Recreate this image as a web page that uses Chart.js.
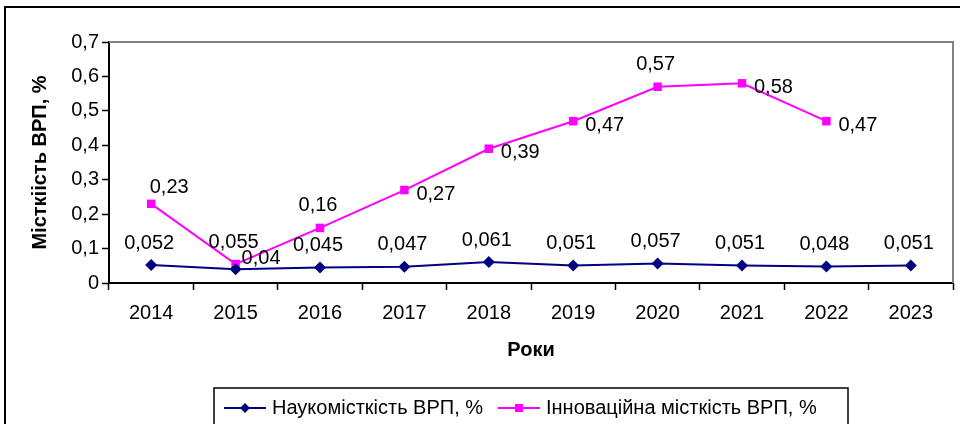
<!DOCTYPE html>
<html lang="uk">
<head>
  <meta charset="UTF-8" />
  <title>Місткість ВРП</title>
  <script src="https://cdn.jsdelivr.net/npm/chart.js"></script>
  <style>
    html, body { margin: 0; padding: 0; background: #fff; overflow: hidden; }
  </style>
</head>
<body>
  <canvas id="chart" width="960" height="424"></canvas>
  <script>
    // дані з графіка
    const years = ["2014", "2015", "2016", "2017", "2018", "2019", "2020", "2021", "2022", "2023"];
    const naukomistkist = [0.052, 0.04, 0.045, 0.047, 0.061, 0.051, 0.057, 0.051, 0.048, 0.051];
    const innovatsiina = [0.23, 0.055, 0.16, 0.27, 0.39, 0.47, 0.57, 0.58, 0.47, null];
    const yTicks = [0, 0.1, 0.2, 0.3, 0.4, 0.5, 0.6, 0.7];

    // де стоять підписи значень
    const naukLabelPos = ["top", "upright", "top", "top", "top", "top", "top", "top", "top", "top"];
    const innovLabelPos = ["topright", "top", "top", "right", "right", "right", "top", "right", "right", "right"];

    const FONT = "'Liberation Sans', Arial, sans-serif";
    const NAVY = "#000080";
    const MAGENTA = "#ff00ff";

    const fmt = v => v === 0 ? "0" : String(v).replace(".", ",");

    const valueLabels = {
      id: "valueLabels",
      afterDatasetsDraw(chart) {
        const ctx = chart.ctx;
        ctx.save();
        ctx.font = "20px " + FONT;
        ctx.fillStyle = "#000";
        ctx.textBaseline = "middle";
        chart.data.datasets.forEach((ds, i) => {
          const meta = chart.getDatasetMeta(i);
          const pos = i === 0 ? naukLabelPos : innovLabelPos;
          meta.data.forEach((pt, j) => {
            const v = ds.data[j];
            if (v == null) return;
            const txt = fmt(v);
            let x = pt.x, y = pt.y;
            if (pos[j] === "top") {
              ctx.textAlign = "center";
              x -= 2; y -= 22;
            } else if (pos[j] === "topright") {
              ctx.textAlign = "center";
              x += 18; y -= 16;
            } else if (pos[j] === "upright") {
              ctx.textAlign = "left";
              x += 6; y -= 11;
            } else {
              ctx.textAlign = "left";
              x += 12; y += 4;
            }
            ctx.fillText(txt, x, y);
          });
        });
        ctx.restore();
      }
    };

    const frame = {
      id: "frame",
      afterDraw(chart) {
        const ctx = chart.ctx;
        const a = chart.chartArea;
        ctx.save();
        // рамка області побудови (сіра зверху і справа)
        ctx.strokeStyle = "#808080";
        ctx.lineWidth = 2;
        ctx.beginPath();
        ctx.moveTo(a.left, a.top);
        ctx.lineTo(a.right, a.top);
        ctx.lineTo(a.right, a.bottom);
        ctx.stroke();
        // зовнішня рамка
        ctx.strokeStyle = "#000";
        ctx.lineWidth = 2;
        ctx.beginPath();
        ctx.moveTo(5, 430);
        ctx.lineTo(5, 7);
        ctx.lineTo(965, 7);
        ctx.stroke();

        // легенда
        const lx = 214, ly = 388, lw = 634, lh = 40;
        ctx.lineWidth = 1.5;
        ctx.strokeRect(lx, ly, lw, lh);
        ctx.font = "20px " + FONT;
        ctx.textBaseline = "middle";
        ctx.textAlign = "left";
        const cy = ly + 20;
        const starts = [lx + 10, lx + 284];
        chart.data.datasets.forEach((ds, i) => {
          const x = starts[i];
          ctx.strokeStyle = ds.borderColor;
          ctx.lineWidth = 2;
          ctx.beginPath();
          ctx.moveTo(x, cy);
          ctx.lineTo(x + 42, cy);
          ctx.stroke();
          ctx.fillStyle = ds.backgroundColor;
          const mx = x + 21;
          if (ds.pointStyle === "rectRot") {
            ctx.beginPath();
            ctx.moveTo(mx, cy - 5);
            ctx.lineTo(mx + 5, cy);
            ctx.lineTo(mx, cy + 5);
            ctx.lineTo(mx - 5, cy);
            ctx.closePath();
            ctx.fill();
          } else {
            ctx.fillRect(mx - 4, cy - 4, 8, 8);
          }
          ctx.fillStyle = "#000";
          ctx.fillText(ds.label, x + 48, cy);
        });
        ctx.restore();
      }
    };

    new Chart(document.getElementById("chart"), {
      type: "line",
      data: {
        labels: years,
        datasets: [{
          label: "Наукомісткість ВРП, %",
          data: naukomistkist,
          borderColor: NAVY,
          backgroundColor: NAVY,
          borderWidth: 2,
          pointStyle: "rectRot",
          pointRadius: 6,
          pointHoverRadius: 6,
          pointBorderWidth: 0
        }, {
          label: "Інноваційна місткість ВРП, %",
          data: innovatsiina,
          borderColor: MAGENTA,
          backgroundColor: MAGENTA,
          borderWidth: 2,
          pointStyle: "rect",
          pointRadius: 6,
          pointHoverRadius: 6,
          pointBorderWidth: 0
        }]
      },
      options: {
        responsive: false,
        animation: false,
        devicePixelRatio: 1,
        layout: { padding: { left: 28, top: 42, right: 7, bottom: 62 } },
        plugins: {
          legend: { display: false },
          tooltip: { enabled: false }
        },
        scales: {
          x: {
            offset: true,
            grid: { offset: true, drawOnChartArea: false, color: "#000", tickLength: 7, tickWidth: 1.5 },
            border: { color: "#000", width: 2 },
            ticks: { color: "#000", font: { family: FONT, size: 20 }, padding: 11, maxRotation: 0 },
            title: { display: true, text: "Роки", color: "#000", font: { family: FONT, size: 20, weight: "bold" }, padding: 0 },
            afterFit(scale) { scale.height = 79; }
          },
          y: {
            min: 0,
            max: 0.7,
            afterBuildTicks(scale) { scale.ticks = yTicks.map(v => ({ value: v })); },
            grid: { drawOnChartArea: false, color: "#000", tickLength: 7, tickWidth: 1.5 },
            border: { color: "#000", width: 2 },
            ticks: { color: "#000", font: { family: FONT, size: 20 }, padding: 3, callback: v => fmt(Math.round(v * 10) / 10) },
            title: { display: true, text: "Місткіість ВРП, %", color: "#000", font: { family: FONT, size: 20, weight: "bold" }, padding: 0 },
            afterFit(scale) { scale.width = 81; }
          }
        }
      },
      plugins: [valueLabels, frame]
    });
  </script>
</body>
</html>
